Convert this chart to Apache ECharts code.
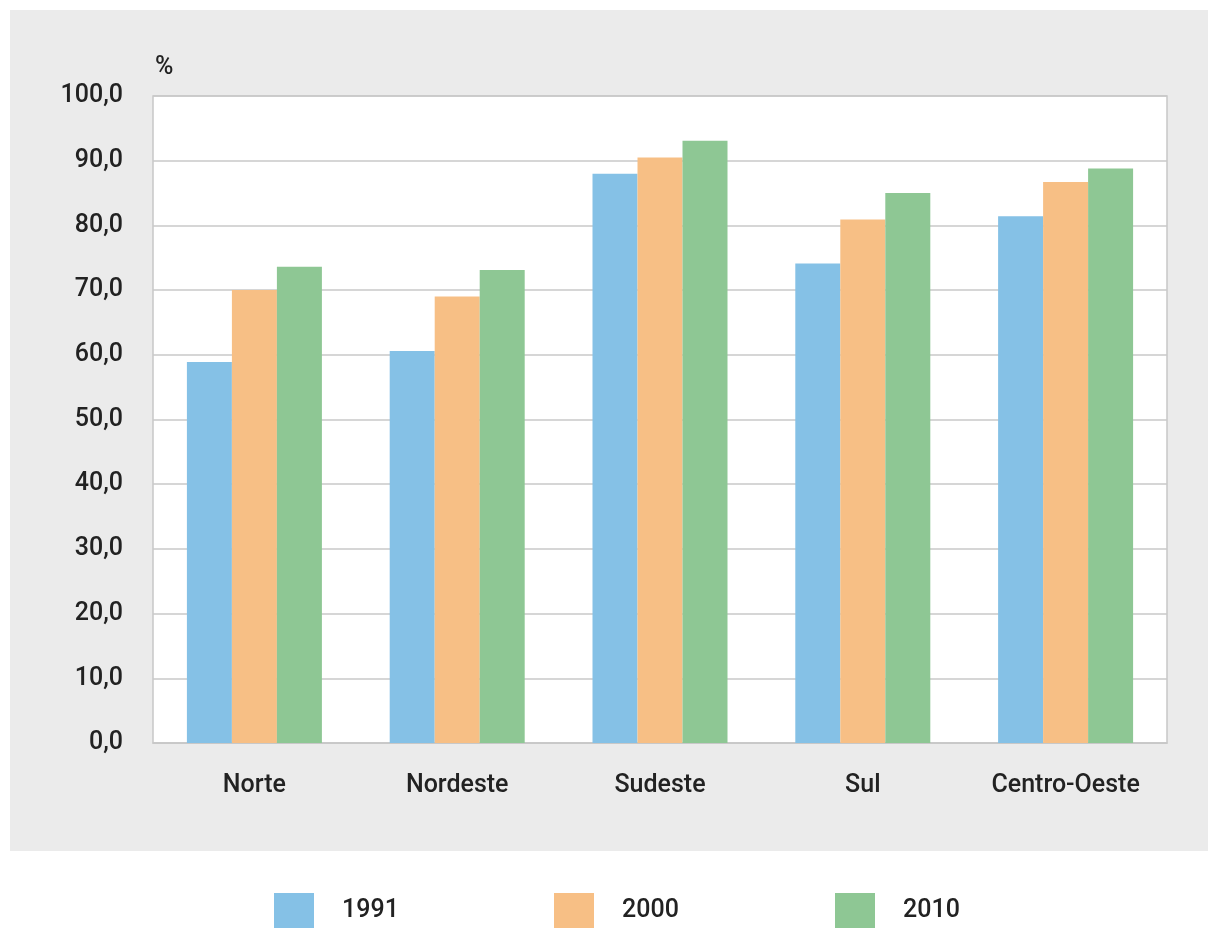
<!DOCTYPE html>
<html><head><meta charset="utf-8">
<script src="https://cdn.jsdelivr.net/npm/echarts@6/dist/echarts.min.js"></script>
<style>html,body{margin:0;padding:0;background:#fff}#c{width:1208px;height:928px}</style>
</head><body><div id="c"></div>
<script>
const categories = ['Norte', 'Nordeste', 'Sudeste', 'Sul', 'Centro-Oeste'];
const years = ['1991', '2000', '2010'];
const v1991 = [58.9, 60.6, 88.0, 74.1, 81.4];
const v2000 = [70.0, 69.0, 90.5, 80.9, 86.7];
const v2010 = [73.6, 73.1, 93.1, 85.0, 88.8];
const colors = ['#85C1E6', '#F7BF85', '#8EC794'];
const values = [v1991, v2000, v2010];
const font = 'Roboto, "Liberation Sans", Arial, sans-serif';
const txt = { fontFamily: font, fontSize: 25, fontWeight: 500, color: '#222222' };
const chart = echarts.init(document.getElementById('c'));
const legendLefts = [274, 554, 835];
chart.setOption({
  backgroundColor: '#ffffff',
  animation: false,
  graphic: [{ type: 'rect', z: -100, silent: true,
    shape: { x: 10, y: 10, width: 1198, height: 841 }, style: { fill: '#ebebeb' } }],
  grid: { left: 153, right: 41, top: 96, bottom: 185, show: true,
    backgroundColor: '#ffffff', borderColor: '#c8c8c8', borderWidth: 1.5 },
  legend: years.map((y, i) => ({
    data: [y], left: legendLefts[i], top: 893, padding: 0, itemWidth: 40, itemHeight: 35,
    icon: 'rect', selectedMode: false,
    textStyle: Object.assign({}, txt, { padding: [0, 0, 0, 23] })
  })),
  xAxis: { type: 'category', data: categories,
    axisLine: { show: true, lineStyle: { color: '#c8c8c8', width: 1.5 } },
    axisTick: { show: false },
    axisLabel: Object.assign({ margin: 30 }, txt) },
  yAxis: { type: 'value', min: 0, max: 100, interval: 10,
    name: '%', nameLocation: 'end', nameGap: 16,
    nameTextStyle: Object.assign({}, txt, { align: 'left', padding: [0, 0, 0, 2] }),
    axisLine: { show: false }, axisTick: { show: false },
    splitLine: { lineStyle: { color: '#c8c8c8', width: 1.5 } },
    axisLabel: Object.assign({ margin: 30,
      formatter: v => v.toFixed(1).replace('.', ',') }, txt) },
  series: years.map((y, i) => ({
    name: y, type: 'bar', data: values[i], barWidth: 45, barGap: '0%',
    itemStyle: { color: colors[i] }
  }))
});
</script></body></html>
